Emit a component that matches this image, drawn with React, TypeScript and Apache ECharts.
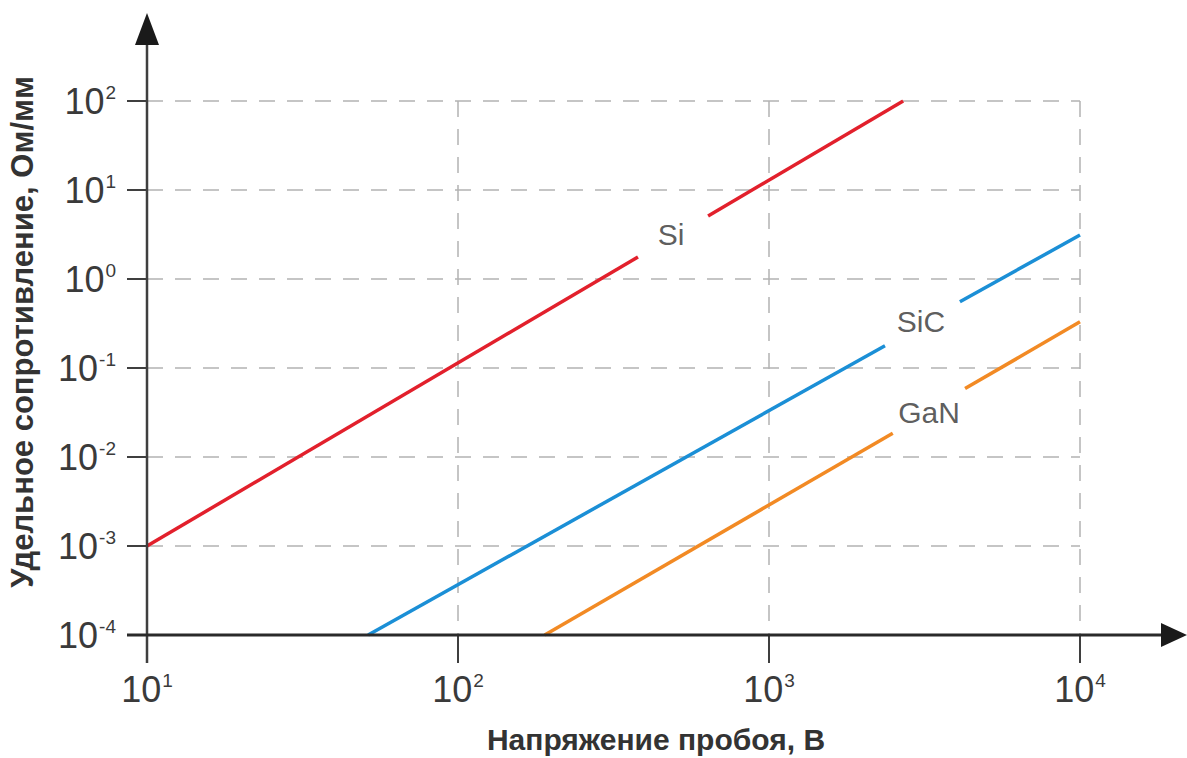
import React, { useEffect, useRef } from "react";
import * as echarts from "echarts";

// Tick exponents (labels are 10^e)
const xTickExponents = [1, 2, 3, 4];
const yTickExponents = [-4, -3, -2, -1, 0, 1, 2];

// Series segments (V, Ohm/mm); each material line is broken where its label sits
const siLow = [[10, 0.001], [379, 1.77]];
const siHigh = [[637, 5.1], [2700, 100]];
const sicLow = [[51.4, 0.0001], [2360, 0.178]];
const sicHigh = [[4110, 0.555], [10000, 3.12]];
const ganLow = [[190, 0.0001], [2500, 0.0185]];
const ganHigh = [[4270, 0.0587], [10000, 0.33]];

// Label anchors
const labelNames = ["Si", "SiC", "GaN"];
const labelPoints = [[484, 3.2], [3080, 0.33], [3270, 0.032]];

const xTitle = "Напряжение пробоя, В";
const yTitle = "Удельное сопротивление, Ом/мм";

const FONT = '"Liberation Sans", Arial, sans-serif';
const C_SI = "#e2202c";
const C_SIC = "#1b8fd6";
const C_GAN = "#f28a24";
const AXIS = "#3f3f3f";

function tickFormatter(exps: number[]) {
  return (v: number) => {
    const e = Math.round(Math.log10(v));
    const idx = exps.indexOf(e);
    const ex = idx >= 0 ? exps[idx] : e;
    return `{b|10}{s|${ex}}`;
  };
}

const rich = {
  b: { fontSize: 36, fontFamily: FONT, color: "#3a3a3a", lineHeight: 36 },
  s: { fontSize: 19, fontFamily: FONT, color: "#3a3a3a", verticalAlign: "top", lineHeight: 19, padding: [0, 0, 0, 1] },
};

export default function App() {
  const ref = useRef<HTMLDivElement>(null);
  useEffect(() => {
    if (!ref.current) return;
    const chart = echarts.init(ref.current, null, { renderer: "svg" });
    const lineSeries = (name: string, data: number[][], color: string) => ({
      name,
      type: "line",
      data,
      symbol: "none",
      lineStyle: { color, width: 3.5 },
      z: 3,
    });
    chart.setOption({
      animation: false,
      backgroundColor: "#ffffff",
      grid: { left: 147, right: 107, top: 101, bottom: 123 },
      xAxis: {
        type: "log",
        logBase: 10,
        min: 10,
        max: 10000,
        splitNumber: 3,
        axisLine: { show: false },
        axisTick: { show: true, length: 28, lineStyle: { color: AXIS, width: 2 } },
        axisLabel: { margin: 36, formatter: tickFormatter(xTickExponents), rich },
        splitLine: { show: true, lineStyle: { color: "#b3b3b3", type: [16, 12], width: 1.5 } },
      },
      yAxis: {
        type: "log",
        logBase: 10,
        min: 0.0001,
        max: 100,
        splitNumber: 6,
        axisLine: { show: false },
        axisTick: { show: true, length: 20, lineStyle: { color: AXIS, width: 2 } },
        axisLabel: { margin: 31, formatter: tickFormatter(yTickExponents), rich },
        splitLine: { show: true, lineStyle: { color: "#b3b3b3", type: [16, 12], width: 1.5 } },
      },
      series: [
        lineSeries("Si", siLow, C_SI),
        lineSeries("Si", siHigh, C_SI),
        lineSeries("SiC", sicLow, C_SIC),
        lineSeries("SiC", sicHigh, C_SIC),
        lineSeries("GaN", ganLow, C_GAN),
        lineSeries("GaN", ganHigh, C_GAN),
        {
          type: "scatter",
          symbolSize: 0,
          data: labelPoints.map((p, i) => ({ name: labelNames[i], value: p })),
          label: {
            show: true,
            position: "inside",
            formatter: "{b}",
            fontSize: 30,
            fontFamily: FONT,
            color: "#333333",
          },
          z: 4,
        },
      ],
      graphic: [
        { type: "line", z: 10, shape: { x1: 147, y1: 663, x2: 147, y2: 40 }, style: { stroke: AXIS, lineWidth: 2.5 } },
        { type: "polygon", z: 10, shape: { points: [[147, 13], [135, 45], [159, 45]] }, style: { fill: "#1a1a1a" } },
        { type: "line", z: 10, shape: { x1: 127, y1: 635, x2: 1165, y2: 635 }, style: { stroke: "#2a2a2a", lineWidth: 3 } },
        { type: "polygon", z: 10, shape: { points: [[1187, 635], [1161, 623], [1161, 647]] }, style: { fill: "#1a1a1a" } },
        {
          type: "text",
          z: 10,
          x: 656,
          y: 739,
          style: { text: xTitle, fontSize: 30, fontWeight: "bold", fontFamily: FONT, fill: "#333333", align: "center", verticalAlign: "middle" },
        },
        {
          type: "text",
          z: 10,
          x: 22,
          y: 332,
          rotation: Math.PI / 2,
          style: { text: yTitle, fontSize: 31, fontWeight: "bold", fontFamily: FONT, fill: "#333333", align: "center", verticalAlign: "middle" },
        },
      ],
    });
    return () => chart.dispose();
  }, []);
  return (
    <div
      ref={ref}
      style={{ position: "absolute", left: 0, top: 0, width: 1187, height: 758 }}
    />
  );
}
